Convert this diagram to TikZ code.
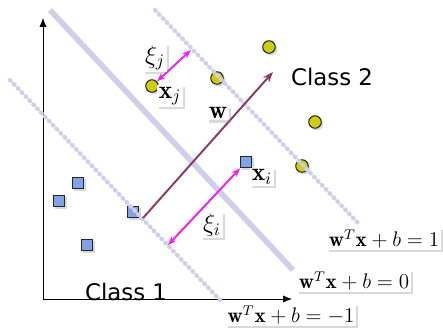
\documentclass[tikz,border=0pt]{standalone}
\usepackage{fontspec}
\newfontfamily\classfont{DejaVu Sans}
\usetikzlibrary{arrows.meta,shadows}
\definecolor{marginline}{HTML}{CFCFEC}
\definecolor{dotyellow}{HTML}{CDCD12}
\definecolor{sqblue}{HTML}{7FA3E6}
\definecolor{wcolor}{HTML}{8A3A62}
\definecolor{slack}{HTML}{F020F0}
\tikzset{
  shade/.style={drop shadow={shadow xshift=1.2pt,shadow yshift=-1.2pt,opacity=0.3}},
  pos2/.style={circle,draw=black!85,line width=0.6pt,fill=dotyellow,minimum size=0.25cm,inner sep=0pt,shade},
  neg1/.style={rectangle,draw=black!85,line width=0.6pt,fill=sqblue,minimum size=0.23cm,inner sep=0pt,shade},
  lbl/.style={fill=white,inner sep=1pt,shade},
  hyper/.style={marginline,line width=2.4pt,line cap=round,dash pattern=on 0.6pt off 2.6pt},
  slackarrow/.style={slack,line width=1.1pt,{Stealth[length=5pt]}-{Stealth[length=5pt]}}
}
\begin{document}
\begin{tikzpicture}[x=0.02cm,y=-0.02cm]
    \useasboundingbox (0,0) rectangle (443,329);
    % axes
    \coordinate (O) at (43,299);
    \coordinate (xend) at (292,299);
    \coordinate (yend) at (43,18);
    \draw[-{Latex[length=5pt,width=4pt]}] (O) -- (xend);
    \draw[-{Latex[length=5pt,width=4pt]}] (O) -- (yend);
    % class 2
    \node[pos2] (p1) at (269,47) {};
    \node[pos2] (p2) at (217,78) {};
    \node[pos2] (xj) at (152,86) {};
    \node[pos2] (p4) at (315,122) {};
    \node[pos2] (p5) at (302,166) {};
    % class 1
    \node[neg1] (xi) at (246,162) {};
    \node[neg1] (n2) at (78,183) {};
    \node[neg1] (n3) at (59,201) {};
    \node[neg1] (n4) at (133,212) {};
    \node[neg1] (n5) at (87,245) {};
    % hyperplanes
    \draw[marginline,line width=3.2pt] (50,10) -- (293,270);
    \draw[hyper] (155,10) -- (358,223);
    \draw[hyper] (10,80) -- (220,300);
    % w and slacks
    \coordinate (wstart) at (143,218);
    \coordinate (wend) at (273,72);
    \draw[wcolor,line width=1.1pt,-{Stealth[length=6pt]}] (wstart) -- (wend);
    \coordinate (xijend) at (191,50);
    \draw[slackarrow] (xj) -- (xijend);
    \coordinate (xiiend) at (168,245);
    \draw[slackarrow] (xiiend) -- (xi);
    % labels
    \node[lbl] (lxij) at (155,58) {\Large$\xi_j$};
    \node[lbl] (lxj) at (170,96) {\Large$\mathbf{x}_j$};
    \node[lbl] (lw) at (218,113) {\Large$\mathbf{w}$};
    \node[lbl] (lxi) at (262,177) {\Large$\mathbf{x}_i$};
    \node[lbl] (lxii) at (212,225) {\Large$\xi_i$};
    \node (c2) at (332,77) {\classfont\fontsize{13}{15}\selectfont Class 2};
    \node (c1) at (126,292) {\classfont\fontsize{13}{15}\selectfont Class 1};
    \node[lbl] (h1) at (384,239) {\large$\mathbf{w}^T\mathbf{x}+b=1$};
    \node[lbl] (h0) at (354,281) {\large$\mathbf{w}^T\mathbf{x}+b=0$};
    \node[lbl] (hm) at (291,315) {\large$\mathbf{w}^T\mathbf{x}+b=-1$};
\end{tikzpicture}
\end{document}
